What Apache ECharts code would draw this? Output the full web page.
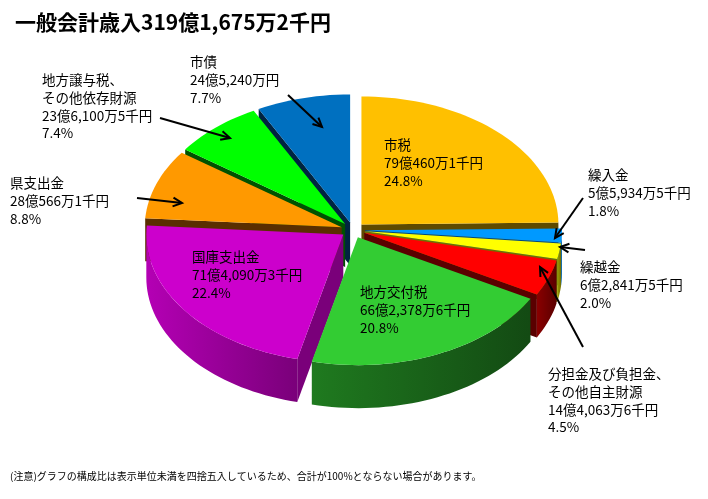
<!DOCTYPE html>
<html>
<head>
    <meta charset="UTF-8">
    <title>一般会計歳入</title>
    <script src="https://cdn.jsdelivr.net/npm/echarts@6/dist/echarts.min.js"></script>
    <style>
        body { margin: 0; background: #fff; }
        #container { width: 708px; height: 499px; }
    </style>
</head>
<body>
<div id="container"></div>
<script>
    // 歳入の内訳（時計回り、12時の位置から）
    var names = ['市税', '繰入金', '繰越金', '分担金及び負担金、\nその他自主財源', '地方交付税',
        '国庫支出金', '県支出金', '地方譲与税、\nその他依存財源', '市債'];
    var amounts = ['79億460万1千円', '5億5,934万5千円', '6億2,841万5千円', '14億4,063万6千円',
        '66億2,378万6千円', '71億4,090万3千円', '28億566万1千円', '23億6,100万5千円', '24億5,240万円'];
    // 単位：万円
    var values = [790460.1, 55934.5, 62841.5, 144063.6, 662378.6, 714090.3, 280566.1, 236100.5, 245240];
    var percents = ['24.8%', '1.8%', '2.0%', '4.5%', '20.8%', '22.4%', '8.8%', '7.4%', '7.7%'];

    var topColors = ['#FFC000', '#0099FF', '#FFFF00', '#FF0000', '#33CC33', '#CC00CC', '#FF9900', '#00FF00', '#0070C0'];
    var sideLight = ['#8A6A00', '#0070BB', '#A0A000', '#8A0000', '#1F7A1F', '#B400B4', '#7A4000', '#008000', '#003A66'];
    var sideDark = ['#5E4A00', '#004A80', '#707000', '#5A0000', '#134A13', '#7A007A', '#5A2E00', '#005200', '#002440'];

    // ラベル位置（左上）と矢印 [x, y]
    var labelPos = [[384, 136], [588, 166], [580, 258], [548, 365], [360, 283],
        [192, 248], [10, 174], [42, 71], [190, 53]];
    var arrows = [null, [583, 198], [585, 250], [583, 347], null, null, [137, 198], [160, 118], [288, 95]];
    var arrowEnds = [null, [555, 238], [560, 247], [540, 267], null, null, [182, 203], [230, 138], [322, 127]];

    // 3D円グラフの形
    var CX = 353, CY = 230, RX = 197, RY = 128, DEPTH = 43, EXPLODE = 12;

    var total = values.reduce(function (s, v) { return s + v; }, 0);
    var starts = [];
    var acc = 0;
    values.forEach(function (v) { starts.push(acc / total * 360); acc += v; });

    function rad(d) { return d * Math.PI / 180; }
    function pt(theta, dx, dy, down) {
        return [CX + dx + RX * Math.sin(rad(theta)), CY + dy - RY * Math.cos(rad(theta)) + (down || 0)];
    }
    function arcPts(a, b, dx, dy, down) {
        var n = Math.max(2, Math.ceil((b - a) / 2));
        var pts = [];
        for (var k = 0; k <= n; k++) pts.push(pt(a + (b - a) * k / n, dx, dy, down));
        return pts;
    }

    function renderSlice(params, api) {
        var i = params.dataIndex;
        var a = starts[i];
        var b = a + api.value(0) / total * 360;
        var mid = rad((a + b) / 2);
        var dx = EXPLODE * Math.sin(mid);
        var dy = -EXPLODE * Math.cos(mid) * 0.65;
        var zBase = Math.round((1 - Math.cos(mid)) * 100) * 10;
        var apex = [CX + dx, CY + dy];
        var apexD = [apex[0], apex[1] + DEPTH];
        var children = [];

        // 切り口の側面
        if (Math.sin(rad(a)) < -1e-6) {
            var p = pt(a, dx, dy);
            children.push({
                type: 'polygon', z2: zBase,
                shape: {points: [apex, p, [p[0], p[1] + DEPTH], apexD]},
                style: {fill: sideDark[i]}
            });
        }
        if (Math.sin(rad(b)) > 1e-6) {
            var q = pt(b, dx, dy);
            children.push({
                type: 'polygon', z2: zBase,
                shape: {points: [apex, q, [q[0], q[1] + DEPTH], apexD]},
                style: {fill: sideDark[i]}
            });
        }
        // 外周の側面（手前のみ）
        var fa = Math.max(a, 90), fb = Math.min(b, 270);
        if (fb > fa) {
            var topArc = arcPts(fa, fb, dx, dy, 0);
            var botArc = arcPts(fa, fb, dx, dy, DEPTH).reverse();
            children.push({
                type: 'polygon', z2: zBase + 1,
                shape: {points: topArc.concat(botArc)},
                style: {
                    fill: new echarts.graphic.LinearGradient(0, 0, 1, 0, [
                        {offset: 0, color: sideLight[i]},
                        {offset: 1, color: sideDark[i]}
                    ])
                }
            });
        }
        // 上面
        children.push({
            type: 'polygon', z2: zBase + 2,
            shape: {points: [apex].concat(arcPts(a, b, dx, dy, 0))},
            style: {fill: topColors[i]}
        });
        return {type: 'group', children: children};
    }

    var FONT = '"Noto Sans CJK JP", sans-serif';
    var graphics = [];
    graphics.push({
        type: 'text', x: 15, y: 22, z: 100,
        style: {text: '一般会計歳入319億1,675万2千円', fontSize: 21, fontWeight: 'bold',
            fontFamily: FONT, fill: '#000', verticalAlign: 'middle'}
    });
    graphics.push({
        type: 'text', x: 10, y: 476, z: 100,
        style: {text: '(注意)グラフの構成比は表示単位未満を四捨五入しているため、合計が100%とならない場合があります。',
            fontSize: 10, fontFamily: FONT, fill: '#000', verticalAlign: 'middle'}
    });
    names.forEach(function (n, i) {
        graphics.push({
            type: 'text', x: labelPos[i][0], y: labelPos[i][1], z: 100,
            style: {text: n + '\n' + amounts[i] + '\n' + percents[i], fontSize: 13.5, lineHeight: 17.8,
                fontFamily: FONT, fill: '#000', verticalAlign: 'top'}
        });
        if (arrows[i]) {
            var s = arrows[i], e = arrowEnds[i];
            var ang = Math.atan2(e[1] - s[1], e[0] - s[0]);
            var L = 10, W = 0.45;
            graphics.push({
                type: 'line', z: 100,
                shape: {x1: s[0], y1: s[1], x2: e[0], y2: e[1]},
                style: {stroke: '#000', lineWidth: 2}
            });
            graphics.push({
                type: 'polyline', z: 100,
                shape: {points: [
                    [e[0] - L * Math.cos(ang - W), e[1] - L * Math.sin(ang - W)],
                    e,
                    [e[0] - L * Math.cos(ang + W), e[1] - L * Math.sin(ang + W)]
                ]},
                style: {stroke: '#000', lineWidth: 2, fill: null}
            });
        }
    });

    var chart = echarts.init(document.getElementById('container'), null, {renderer: 'canvas'});
    var option = {
        animation: false,
        backgroundColor: '#fff',
        series: [{
            type: 'custom',
            name: '一般会計歳入',
            coordinateSystem: 'none',
            renderItem: renderSlice,
            data: values.map(function (v, i) { return [v, i]; })
        }],
        graphic: graphics
    };
    chart.setOption(option);
</script>
</body>
</html>
